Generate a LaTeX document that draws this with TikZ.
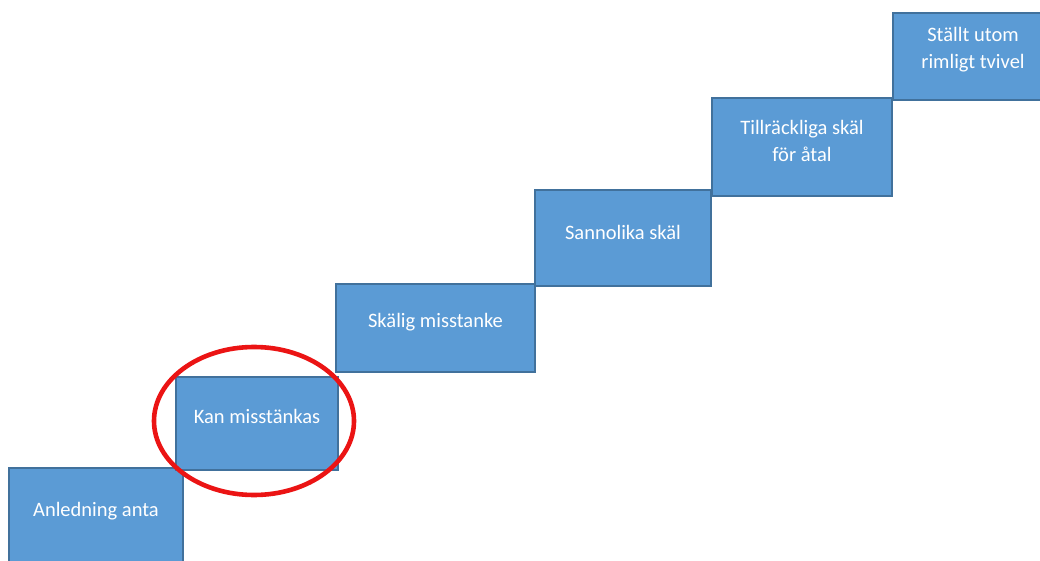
\documentclass[tikz,border=0pt]{standalone}
\usepackage{fontspec}
\usetikzlibrary{shapes.geometric}
\setmainfont{Carlito}
\definecolor{boxfill}{RGB}{91,155,213}
\definecolor{boxline}{RGB}{65,113,156}
\definecolor{ringred}{RGB}{235,20,20}
\begin{document}
\begin{tikzpicture}[x=1pt,y=-1pt,
  stepbox/.style={draw=boxline, line width=1.2pt, fill=boxfill, inner sep=0pt, anchor=center},
  lbl/.style={text=white, align=center, font=\fontsize{20.5}{27}\selectfont, inner sep=0pt},
  ring/.style={draw=ringred, line width=4.6pt}]
\useasboundingbox (0,0) rectangle (1040,561);
\clip (0,0) rectangle (1040,561);
% boxes
\node[stepbox, minimum width=174pt, minimum height=98pt] (b1) at (96,517) {};
\node[stepbox, minimum width=162pt, minimum height=93pt] (b2) at (257,423.5) {};
\node[stepbox, minimum width=199pt, minimum height=88pt] (b3) at (435.5,328) {};
\node[stepbox, minimum width=176pt, minimum height=96pt] (b4) at (623,238) {};
\node[stepbox, minimum width=180pt, minimum height=98pt] (b5) at (802,147) {};
\node[stepbox, minimum width=160pt, minimum height=87pt] (b6) at (973,56.5) {};
% texts
\node[lbl] (t1) at ([yshift=6pt]b1.center) {Anledning anta};
\node[lbl] (t2) at ([yshift=7pt]b2.center) {Kan misstänkas};
\node[lbl] (t3) at ([yshift=6pt]b3.center) {Skälig misstanke};
\node[lbl] (t4) at ([yshift=6pt]b4.center) {Sannolika skäl};
\node[lbl] (t5) at ([yshift=6.5pt]b5.center) {Tillräckliga skäl\\för åtal};
\node[lbl] (t6) at ([yshift=7pt]b6.center) {Ställt utom\\rimligt tvivel};
% red ring
\node[ring, ellipse, minimum width=200pt, minimum height=148pt, inner sep=0pt] (r) at (254,421) {};
\end{tikzpicture}
\end{document}
